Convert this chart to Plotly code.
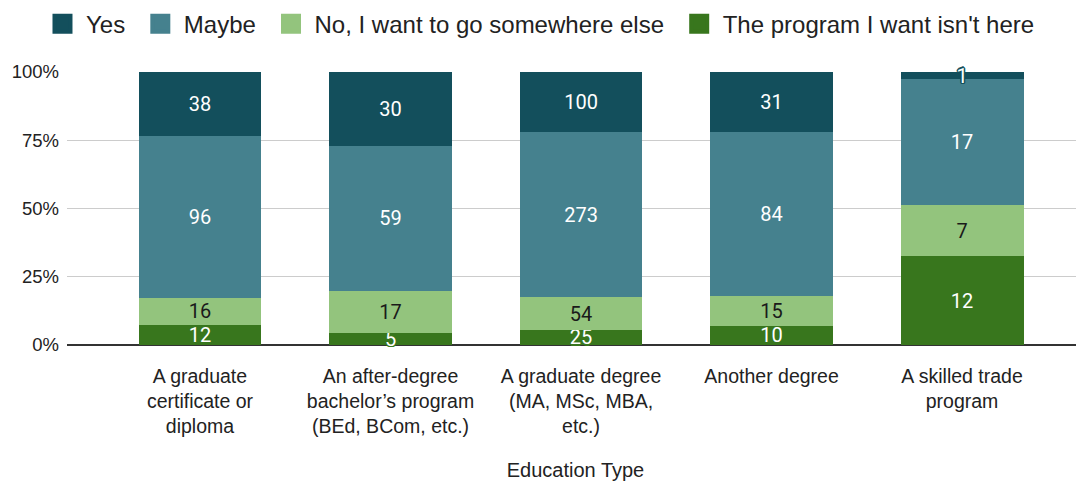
import plotly.graph_objects as go

categories = [
    "A graduate<br>certificate or<br>diploma",
    "An after-degree<br>bachelor\u2019s program<br>(BEd, BCom, etc.)",
    "A graduate degree<br>(MA, MSc, MBA,<br>etc.)",
    "Another degree",
    "A skilled trade<br>program",
]
program_not_here = [12, 5, 25, 10, 12]
no_elsewhere = [16, 17, 54, 15, 7]
maybe = [96, 59, 273, 84, 17]
yes = [38, 30, 100, 31, 1]
y_ticks = [0, 25, 50, 75, 100]
y_tick_labels = ["0%", "25%", "50%", "75%", "100%"]

series = [
    ("The program I want isn't here", program_not_here, "#38761d", "white"),
    ("No, I want to go somewhere else", no_elsewhere, "#93c47d", "#1a1a1a"),
    ("Maybe", maybe, "#45818e", "white"),
    ("Yes", yes, "#134f5c", "white"),
]

xs = list(range(len(categories)))
fig = go.Figure()
for name, vals, color, tcolor in series:
    sh = ", ".join(f"{dx}px {dy}px 0 {color}" for dx, dy in
                   [(1.5, 0), (-1.5, 0), (0, 1.5), (0, -1.5), (1, 1), (-1, -1), (1, -1), (-1, 1)])
    fig.add_trace(go.Bar(
        x=xs, y=vals, name=name, legendgroup=name, showlegend=False,
        marker=dict(color=color, line=dict(width=0)),
        text=[str(v) for v in vals],
        textposition="inside", insidetextanchor="middle",
        textangle=0, constraintext="none",
        textfont=dict(family="Roboto", size=20, color=tcolor, shadow=sh),
        cliponaxis=False,
        width=0.645,
    ))

# legend proxies (square swatches), in the reference's order
legend_order = list(reversed(series))
for k, (name, vals, color, tcolor) in enumerate(legend_order):
    pad = "\u00a0" if k < len(legend_order) - 1 else ""
    fig.add_trace(go.Scatter(
        x=[None], y=[None], mode="markers", name=name + pad, legendgroup=name,
        marker=dict(symbol="square", size=16, color=color,
                    line=dict(color=color, width=4)),
        showlegend=True,
    ))

# page has an 8px body margin, so the figure is drawn 8px smaller and offset
fig.update_layout(
    barmode="stack", barnorm="percent",
    width=1076, height=473,
    margin=dict(l=59, r=0, t=64, b=136, autoexpand=False),
    paper_bgcolor="white", plot_bgcolor="white",
    font=dict(family="Liberation Sans, Arial", color="#222222", size=18),
    legend=dict(orientation="h", x=0.0288, xanchor="left", xref="container",
                y=1.258, yanchor="top", yref="paper", traceorder="normal",
                font=dict(size=24, color="#222222"), itemwidth=37,
                itemsizing="trace"),
    showlegend=True,
)
fig.update_xaxes(
    tickmode="array", tickvals=xs, ticktext=categories,
    range=[-0.698, 4.64], showgrid=False, zeroline=False,
    showline=False, ticks="", ticklabelstandoff=17,
    tickfont=dict(size=19.5, color="#222222"),
    title=dict(text="Education Type", font=dict(size=20, color="#222222"), standoff=26),
    automargin=False,
)
fig.update_yaxes(
    range=[0, 100], tickmode="array", tickvals=y_ticks, ticktext=y_tick_labels,
    showgrid=True, gridcolor="#cccccc", gridwidth=1,
    zeroline=True, zerolinecolor="#333333", zerolinewidth=1.5,
    tickfont=dict(size=18.5, color="#222222"), ticks="", ticklabelstandoff=7,
    automargin=False,
)
fig.write_html("out.html")
